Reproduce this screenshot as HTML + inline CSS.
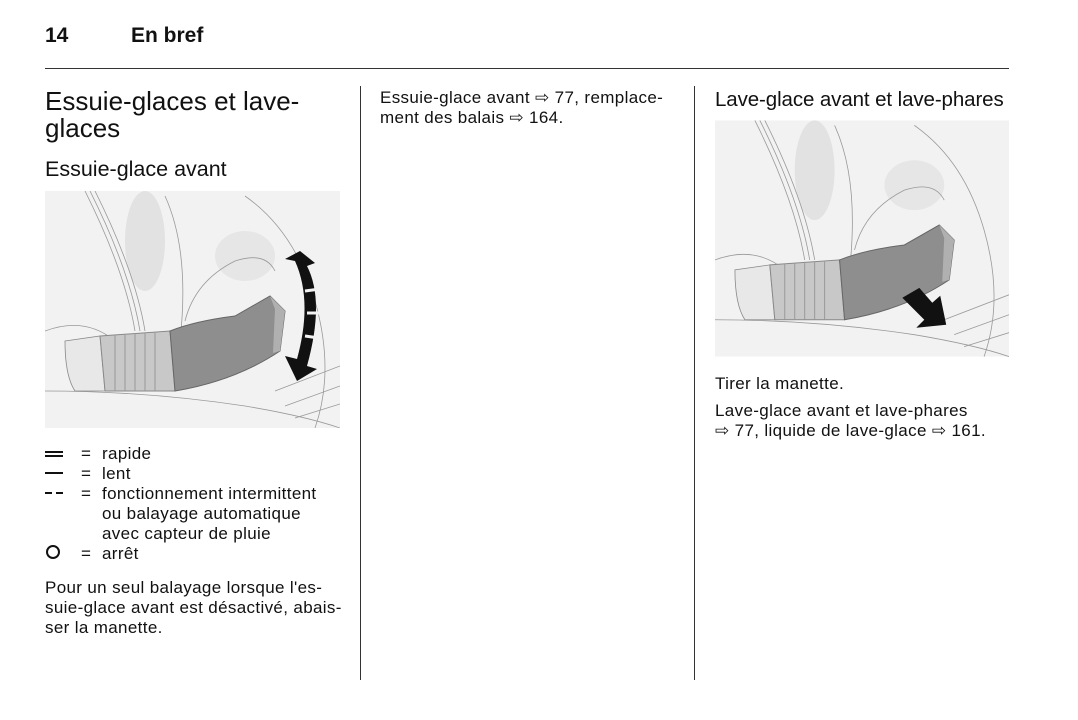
<!DOCTYPE html>
<html><head><meta charset="utf-8"><style>
body{margin:0;width:1078px;height:720px;background:#fff;position:relative;font-family:"Liberation Sans",sans-serif;color:#111;overflow:hidden}
.a{position:absolute;white-space:nowrap}
.t{font-size:17px;line-height:20px;letter-spacing:0.35px}
</style></head><body>
<div class="a" style="left:45px;top:24px;font-size:21px;font-weight:bold">14</div>
<div class="a" style="left:131px;top:24px;font-size:21px;font-weight:bold">En bref</div>
<div class="a" style="left:45px;top:68px;width:964px;height:1px;background:#333"></div>
<div class="a" style="left:360px;top:86px;width:1px;height:594px;background:#333"></div>
<div class="a" style="left:694px;top:86px;width:1px;height:594px;background:#333"></div>

<div class="a" style="left:45px;top:88px;font-size:26px;line-height:27px">Essuie-glaces et lave-<br>glaces</div>
<div class="a" style="left:45px;top:157px;font-size:21.5px">Essuie-glace avant</div>

<svg class="a" style="left:45px;top:191px" width="295" height="237" viewBox="0 0 295 237">
<rect width="295" height="237" fill="#f2f2f2"/>
<ellipse cx="100" cy="50" rx="20" ry="50" fill="#e2e2e2"/>
<ellipse cx="200" cy="65" rx="30" ry="25" fill="#e6e6e6"/>
<g fill="none" stroke="#999" stroke-width="0.8">
<path d="M40 0 Q80 80 90 140"/><path d="M45 0 Q85 80 95 140"/><path d="M50 0 Q90 80 100 140"/>
<path d="M120 5 Q145 60 135 150"/><path d="M200 5 Q250 40 270 110 Q290 180 270 237"/>
<path d="M140 130 Q150 90 190 70 Q220 60 230 80"/><path d="M0 140 Q40 125 70 150"/>
<path d="M0 200 Q100 200 200 215 Q260 225 295 237"/>
<path d="M230 200 L295 175"/><path d="M240 215 L295 195"/><path d="M250 227 L295 213"/>
</g>
<path d="M20 150 L55 145 L60 200 L30 200 Q20 185 20 150Z" fill="#e8e8e8" stroke="#888" stroke-width="0.8"/>
<path d="M55 145 L125 140 L130 200 L60 200Z" fill="#c8c8c8" stroke="#888"/>
<g stroke="#999" stroke-width="1"><path d="M70 144V200M80 143V200M90 142V200M100 142V200M110 141V200"/></g>
<path d="M125 140 Q150 130 190 125 L225 105 L240 120 L235 160 Q190 190 130 200Z" fill="#8e8e8e" stroke="#666"/>
<path d="M225 105 L240 120 L235 160 L228 162 L230 118Z" fill="#b0b0b0"/>
<path d="M250 70 L240 68 L255 60 L270 72 L262 75 Q280 110 262 175 L272 178 L252 190 L240 165 L252 168 Q268 110 250 70Z" fill="#111"/>
<path d="M260 100 L275 98 M262 122 L276 122 M260 145 L274 147" stroke="#f2f2f2" stroke-width="3"/>
</svg>

<div class="a" style="left:45px;top:451px;width:18px;height:2px;border-top:2px solid #111;border-bottom:2px solid #111"></div>
<div class="a" style="left:45px;top:472px;width:18px;height:2px;background:#111"></div>
<div class="a" style="left:45px;top:492px;width:7px;height:2px;background:#111"></div>
<div class="a" style="left:56px;top:492px;width:7px;height:2px;background:#111"></div>
<div class="a" style="left:46px;top:545px;width:10px;height:10px;border:2px solid #111;border-radius:50%"></div>
<div class="a t" style="left:81px;top:444px">=</div>
<div class="a t" style="left:81px;top:464px">=</div>
<div class="a t" style="left:81px;top:484px">=</div>
<div class="a t" style="left:81px;top:544px">=</div>
<div class="a t" style="left:102px;top:444px">rapide<br>lent<br>fonctionnement intermittent<br>ou balayage automatique<br>avec capteur de pluie<br>arrêt</div>
<div class="a t" style="left:45px;top:578px">Pour un seul balayage lorsque l'es-<br>suie-glace avant est désactivé, abais-<br>ser la manette.</div>

<div class="a t" style="left:380px;top:88px">Essuie-glace avant ⇨ 77, remplace-<br>ment des balais ⇨ 164.</div>

<div class="a" style="left:715px;top:88px;font-size:20.5px;letter-spacing:-0.1px">Lave-glace avant et lave-phares</div>
<svg class="a" style="left:715px;top:120px" width="294" height="237" viewBox="0 0 295 237">
<rect width="295" height="237" fill="#f2f2f2"/>
<ellipse cx="100" cy="50" rx="20" ry="50" fill="#e2e2e2"/>
<ellipse cx="200" cy="65" rx="30" ry="25" fill="#e6e6e6"/>
<g fill="none" stroke="#999" stroke-width="0.8">
<path d="M40 0 Q80 80 90 140"/><path d="M45 0 Q85 80 95 140"/><path d="M50 0 Q90 80 100 140"/>
<path d="M120 5 Q145 60 135 150"/><path d="M200 5 Q250 40 270 110 Q290 180 270 237"/>
<path d="M140 130 Q150 90 190 70 Q220 60 230 80"/><path d="M0 140 Q40 125 70 150"/>
<path d="M0 200 Q100 200 200 215 Q260 225 295 237"/>
<path d="M230 200 L295 175"/><path d="M240 215 L295 195"/><path d="M250 227 L295 213"/>
</g>
<path d="M20 150 L55 145 L60 200 L30 200 Q20 185 20 150Z" fill="#e8e8e8" stroke="#888" stroke-width="0.8"/>
<path d="M55 145 L125 140 L130 200 L60 200Z" fill="#c8c8c8" stroke="#888"/>
<g stroke="#999" stroke-width="1"><path d="M70 144V200M80 143V200M90 142V200M100 142V200M110 141V200"/></g>
<path d="M125 140 Q150 130 190 125 L225 105 L240 120 L235 160 Q190 190 130 200Z" fill="#8e8e8e" stroke="#666"/>
<path d="M225 105 L240 120 L235 160 L228 162 L230 118Z" fill="#b0b0b0"/>
<path d="M188 178 L205 168 L218 183 L226 176 L232 205 L202 208 L210 200Z" fill="#111"/>
</svg>
<div class="a t" style="left:715px;top:374px">Tirer la manette.</div>
<div class="a t" style="left:715px;top:401px">Lave-glace avant et lave-phares<br>⇨ 77, liquide de lave-glace ⇨ 161.</div>
</body></html>
